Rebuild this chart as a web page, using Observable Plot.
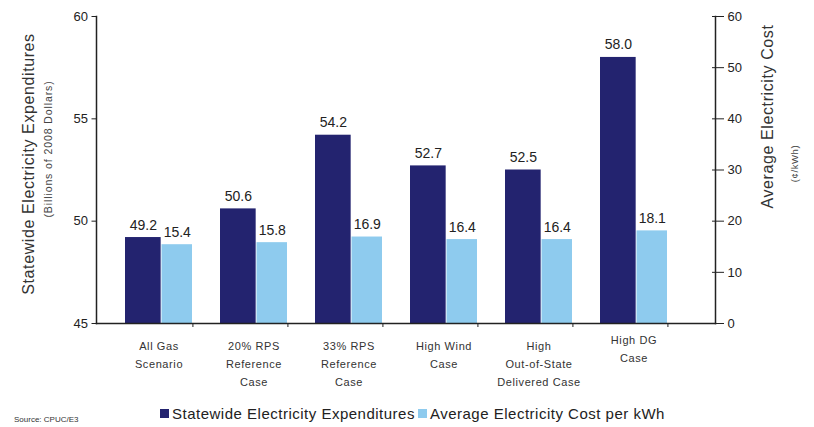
<!DOCTYPE html>
<html>
<head>
<meta charset="utf-8">
<script src="https://cdn.jsdelivr.net/npm/d3@7"></script>
<script src="https://cdn.jsdelivr.net/npm/@observablehq/plot@0.6"></script>
<style>
  html, body { margin: 0; padding: 0; background: #fff; }
  #chart { position: relative; width: 814px; height: 427px; font-family: "Liberation Sans", Arial, sans-serif; }
  #legend { position: absolute; left: 160px; top: 405px; font-size: 15px; letter-spacing: 0.5px; color: #222; display: flex; align-items: center; white-space: nowrap; }
  #legend .sw { display: inline-block; width: 9px; height: 9px; margin-right: 3px; }
  #legend .item { display: flex; align-items: center; margin-right: 3px; }
  #source { position: absolute; left: 14px; top: 415px; font-size: 8px; color: #333; }
  .wide text { letter-spacing: 0.6px; }
  .wider text { letter-spacing: 0.9px; }
</style>
</head>
<body>
<div id="chart">
  <div id="plot"></div>
  <div id="source">Source: CPUC/E3</div>
  <div id="legend"></div>
</div>
<script>
// Scenario names (x axis), one per group of bars
const categories = [
  "All Gas\nScenario",
  "20% RPS\nReference\nCase",
  "33% RPS\nReference\nCase",
  "High Wind\nCase",
  "High\nOut-of-State\nDelivered Case",
  "High DG\nCase"
];
// Statewide electricity expenditures, billions of 2008 dollars (left axis)
const expenditures = [49.2, 50.6, 54.2, 52.7, 52.5, 58.0];
// Average electricity cost, cents per kWh (right axis)
const costPerKWh = [15.4, 15.8, 16.9, 16.4, 16.4, 18.1];
// Axis ticks
const leftTicks = [45, 50, 55, 60];
const rightTicks = [0, 10, 20, 30, 40, 50, 60];
// Series names for the legend
const seriesNames = ["Statewide Electricity Expenditures", "Average Electricity Cost per kWh"];

const DARK = "#23236f";
const LIGHT = "#8ecbee";

// Left axis runs 45–60, right axis 0–60 over the same height
const leftMin = 45, leftMax = 60, rightMax = 60;
const toLeft = c => leftMin + c * (leftMax - leftMin) / rightMax;
const toRight = v => (v - leftMin) * rightMax / (leftMax - leftMin);

const rows = categories.map((category, i) => ({
  category,
  exp: expenditures[i],
  cost: costPerKWh[i]
}));

const bandStart = 94.5, bandEnd = 669.5;
const step = (bandEnd - bandStart) / categories.length;
const darkL = 28, darkR = step - 64.5;   // insets of the expenditure bar
const lightL = 64.5, lightR = 0;          // insets of the cost bar
const darkCenter = (darkL + (step - darkR)) / 2 - step / 2;
const lightCenter = (lightL + (step - lightR)) / 2 - step / 2;
const pairCenter = (darkL + step - lightR) / 2 - step / 2;

const plot = Plot.plot({
  width: 814,
  height: 400,
  marginLeft: 96,
  marginRight: 99,
  marginTop: 16,
  marginBottom: 77,
  style: { fontFamily: "Liberation Sans, Arial, sans-serif", fontSize: "12px", color: "#222", background: "#fff" },
  x: { type: "band", domain: categories, range: [bandStart, bandEnd], padding: 0 },
  y: { domain: [leftMin, leftMax] },
  marks: [
    Plot.barY(rows, { x: "category", y1: leftMin, y2: "exp", fill: DARK, insetLeft: darkL, insetRight: darkR }),
    Plot.barY(rows, { x: "category", y1: leftMin, y2: d => toLeft(d.cost), fill: LIGHT, insetLeft: lightL, insetRight: lightR }),
    Plot.text(rows, { x: "category", y: "exp", text: d => d.exp.toFixed(1), dx: darkCenter, dy: -8, lineAnchor: "bottom", fontSize: 14, fill: "#222" }),
    Plot.text(rows, { x: "category", y: d => toLeft(d.cost), text: d => d.cost.toFixed(1), dx: lightCenter, dy: -8, lineAnchor: "bottom", fontSize: 14, fill: "#222" }),
    // axis lines
    Plot.frame({ anchor: "left", stroke: "#222", strokeWidth: 1.5 }),
    Plot.frame({ anchor: "right", stroke: "#222", strokeWidth: 1.5 }),
    Plot.frame({ anchor: "bottom", stroke: "#222", strokeWidth: 1.5 }),
    // left axis
    Plot.axisY({ anchor: "left", ticks: leftTicks, tickSize: 4.5, tickPadding: 4, label: null, fontSize: 13, stroke: "#222" }),
    // right axis, crossing ticks
    Plot.axisY({ anchor: "right", ticks: rightTicks.map(toLeft), tickFormat: v => String(Math.round(toRight(v))), tickSize: 8, tickPadding: 4, label: null, fontSize: 13, stroke: "#222" }),
    Plot.axisY({ anchor: "right", ticks: rightTicks.map(toLeft), tickFormat: () => "", tickSize: -4, label: null, stroke: "#222" }),
    // category boundary ticks
    Plot.axisX({ ticks: categories, tickFormat: () => "", tickSize: 4, dx: step / 2, label: null, stroke: "#222" }),
    // category labels (the last one sits a little higher)
    Plot.axisX({ ticks: categories.slice(0, -1), tickSize: 0, tickPadding: 14, dx: pairCenter, label: null, fontSize: 11, lineHeight: 1.64, fill: "#333", className: "wide" }),
    Plot.axisX({ ticks: categories.slice(-1), tickSize: 0, tickPadding: 8, dx: pairCenter, label: null, fontSize: 11, lineHeight: 1.64, fill: "#333", className: "wide" }),
    // axis titles
    Plot.text(["Statewide Electricity Expenditures"], { text: d => d, frameAnchor: "left", textAnchor: "middle", rotate: -90, dx: -68, dy: -6, fontSize: 16, fill: "#333", className: "wide" }),
    Plot.text(["(Billions of 2008 Dollars)"], { text: d => d, frameAnchor: "left", textAnchor: "middle", rotate: -90, dx: -48, dy: -21, fontSize: 10.5, fill: "#444", className: "wider" }),
    Plot.text(["Average Electricity Cost"], { text: d => d, frameAnchor: "right", textAnchor: "middle", rotate: -90, dx: 52, dy: -53.5, fontSize: 16, fill: "#333", className: "wide" }),
    Plot.text(["(¢/kWh)"], { text: d => d, frameAnchor: "right", textAnchor: "middle", rotate: -90, dx: 79, dy: -6.5, fontSize: 9.5, fill: "#444", className: "wide" })
  ]
});
document.getElementById("plot").appendChild(plot);

const legend = document.getElementById("legend");
[DARK, LIGHT].forEach((c, i) => {
  const item = document.createElement("span");
  item.className = "item";
  const sw = document.createElement("span");
  sw.className = "sw";
  sw.style.background = c;
  item.appendChild(sw);
  item.appendChild(document.createTextNode(seriesNames[i]));
  legend.appendChild(item);
});
</script>
</body>
</html>
